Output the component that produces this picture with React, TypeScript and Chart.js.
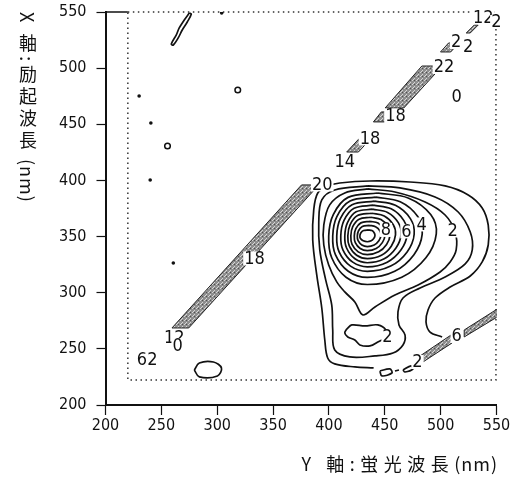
import React, { useEffect, useRef } from "react";
import { Chart, registerables } from "chart.js";

Chart.register(...registerables);

// ---------- axis ----------
const AXIS_MIN = 200;
const AXIS_MAX = 550;
const AXIS_STEP = 50;
const X_TITLE_MAIN = "Y 軸:蛍光波長";
const Y_TITLE_MAIN = "X 軸:励起波長";
const UNIT = "(nm)";

// ---------- contour lines: [emission nm, excitation nm] ----------
const peakRing1 = [[435.4,355.9],[438.5,355.3],[440.6,353.2],[441.2,350.8],[440.1,348.2],[437.8,346.2],[434.4,345.4],[430.7,346.2],[428.2,348.2],[427.7,350.5],[428.5,353.2],[431.0,355.4]];
const peakRing2 = [[436.2,360.0],[441.7,358.8],[445.6,355.2],[446.6,351.0],[444.7,346.3],[440.5,342.5],[434.4,341.1],[429.5,342.5],[426.1,346.3],[425.4,350.5],[426.5,355.2],[429.9,359.0]];
const peakRing3 = [[436.8,363.6],[443.9,362.0],[448.9,357.0],[450.2,351.2],[447.8,344.6],[442.3,339.4],[434.4,337.5],[428.0,339.4],[423.6,344.6],[422.7,350.5],[424.1,357.0],[428.6,362.2]];
const peakRing4 = [[437.4,367.2],[446.6,365.2],[453.0,358.8],[454.7,351.3],[451.6,343.0],[444.5,336.4],[434.4,333.9],[426.2,336.4],[420.7,343.0],[419.6,350.5],[421.3,358.8],[427.0,365.5]];
const peakRing5 = [[438.2,370.8],[449.5,368.3],[457.6,360.6],[459.6,351.5],[455.8,341.4],[447.0,333.3],[434.4,330.3],[424.8,333.3],[418.3,341.4],[416.9,350.5],[419.0,360.6],[425.6,368.7]];
const peakRing6 = [[438.9,374.4],[452.5,371.5],[462.1,362.4],[464.6,351.7],[460.0,339.8],[449.5,330.2],[434.4,326.7],[423.3,330.2],[415.8,339.8],[414.2,350.5],[416.6,362.4],[424.3,372.0]];
const peakRing7 = [[439.7,378.0],[455.7,374.7],[467.1,364.2],[470.0,351.9],[464.6,338.2],[452.2,327.2],[434.4,323.1],[421.3,327.2],[412.5,338.2],[410.6,350.5],[413.4,364.2],[422.5,375.2]];
const peakRing8 = [[440.7,381.6],[459.5,377.8],[472.9,366.0],[476.3,352.1],[470.0,336.3],[455.3,323.7],[434.4,319.0],[419.3,323.7],[409.1,336.3],[407.0,350.5],[410.2,366.0],[420.7,378.4]];
const peakRing9 = [[441.8,385.2],[463.8,381.0],[479.5,367.8],[483.5,352.2],[476.1,333.9],[458.9,319.1],[434.4,313.6],[417.3,319.1],[405.8,333.9],[403.4,350.5],[407.1,367.8],[418.9,381.7]];
const peakRing10 = [[443.6,388.8],[471.4,384.2],[491.1,369.6],[496.1,352.4],[486.8,331.1],[465.2,313.8],[434.4,307.3],[415.3,313.8],[402.5,331.1],[399.8,350.5],[403.9,369.6],[417.1,384.9]];
const level2Contour = [[434.9,392.4],[459.1,389.7],[486.1,380.8],[504.0,369.2],[513.0,354.1],[513.9,338.1],[508.5,327.4],[499.5,318.5],[479.8,306.9],[459.1,298.0],[441.2,287.3],[430.4,280.2],[423.2,291.8],[414.2,300.7],[407.0,309.6],[399.8,324.7],[395.4,342.5],[395.4,360.3],[400.7,378.2],[414.2,388.8]];
const level1Contour = [[434.9,395.1],[463.6,393.3],[495.0,385.3],[515.7,371.9],[526.5,354.1],[528.3,338.1],[522.0,325.6],[504.0,314.0],[481.6,304.2],[466.3,295.3],[461.8,282.9],[462.7,271.3],[468.1,262.4],[466.3,253.5],[457.3,246.3],[441.2,243.7],[418.7,242.8],[405.2,249.0],[403.4,266.8],[402.5,289.1],[397.1,311.4],[391.8,338.1],[390.9,363.0],[393.6,382.6],[405.2,391.5]];
const outerContour = [[501.3,260.6],[490.5,265.0],[486.9,273.9],[488.7,284.6],[495.0,295.3],[508.5,305.1],[526.5,314.9],[537.2,327.4],[542.6,342.5],[542.6,360.3],[537.2,375.5],[524.7,387.1],[504.0,395.1],[472.6,398.6],[436.7,399.5],[409.7,397.7],[398.9,395.1],[390.0,388.8],[386.4,373.7],[385.5,347.0],[389.1,315.8],[393.6,286.4],[396.3,257.9],[398.9,241.9],[405.2,236.6],[423.2,233.9],[440.0,233.0]];
const secondaryLoop = [[416.0,267.7],[420.5,271.3],[432.2,270.4],[443.8,271.3],[451.0,266.8],[451.0,260.6],[443.8,256.1],[436.7,252.6],[427.7,253.5],[423.2,257.9],[416.9,260.6],[414.2,264.2]];
const lowLeftLoop = [[279.5,231.2],[284.0,237.4],[296.6,238.3],[303.8,233.0],[300.2,225.9],[284.0,225.0]];
const bottomLoopA = [[445.6,230.3],[454.6,232.1],[456.4,228.5],[447.4,225.9]];
const bottomLoopB = [[466.3,231.2],[473.5,234.8],[475.3,232.1],[468.1,229.4]];
const bottomDash = [[459.1,230.3],[462.7,231.2]];
const topSliver = [[275.0,549.1],[270.5,542.9],[266.0,535.8],[263.3,529.5],[258.9,521.5],[260.7,520.6],[265.1,526.9],[268.7,534.0],[273.2,541.1],[276.8,548.2]];

// ---------- scatter bands (filled) ----------
const bandLower = [[259.5,268.6],[274.5,268.6],[391.0,396.0],[375.5,396.0]];
const bandPieceA = [[415.9,425.3],[426.4,425.3],[437.2,436.9],[426.7,436.9]];
const bandPieceB = [[439.8,452.1],[449.7,452.1],[456.9,461.0],[446.9,461.0]];
const bandPieceC = [[450.3,464.5],[467.0,464.5],[501.5,501.9],[483.2,501.9]];
const bandPieceD = [[499.9,514.4],[509.0,514.4],[516.2,522.4],[507.1,522.4]];
const bandPieceE = [[522.9,531.3],[526.5,531.3],[533.6,538.4],[530.1,538.4]];
const band2ndA = [[482.5,237.2],[482.5,244.3],[509.4,262.4],[510.3,255.3]];
const band2ndB = [[521.1,260.6],[521.1,266.8],[550.7,285.5],[550.7,278.4]];

// ---------- isolated marks ----------
const smallDots = [[230.1,475.2],[240.6,451.2],[240.0,400.4],[304.0,549.1],[260.7,326.5]];
const smallRings = [[255.5,430.7],[318.4,480.6]];

// ---------- measured region frame ----------
const frameEm = [220, 549.5];
const frameEx = [222.3, 550];

// ---------- contour labels: [text, emission, excitation] ----------
const contourLabels: [string, number, number][] = [
  ["8", 451.0, 355.9],
  ["6", 469.4, 354.6],
  ["4", 482.9, 360.8],
  ["2", 510.8, 355.4],
  ["0", 514.3, 474.8],
  ["2", 452.4, 260.6],
  ["6", 514.3, 261.5],
  ["2", 479.3, 238.3],
  ["20", 394.0, 396.4],
  ["14", 414.2, 416.9],
  ["18", 436.7, 437.4],
  ["18", 459.6, 457.8],
  ["22", 503.0, 501.0],
  ["2", 513.9, 523.3],
  ["2", 524.7, 518.8],
  ["12", 538.1, 545.1],
  ["2", 549.8, 541.1],
  ["18", 333.4, 330.5],
  ["12", 261.5, 260.2],
  ["0", 264.5, 253.0],
  ["62", 237.3, 240.1],
];

const FONT_NARROW = '"Liberation Sans Narrow", "DejaVu Sans Condensed", sans-serif';

const pts = (arr: number[][]) => arr.map(([x, y]) => ({ x, y }));
const closed = (arr: number[][]) => pts([...arr, arr[0]]);

const labelPlugin = {
  id: "contourLabels",
  afterDatasetsDraw(chart: any) {
    const { ctx, scales } = chart;
    ctx.save();
    ctx.font = `18px ${FONT_NARROW}`;
    ctx.textAlign = "center";
    ctx.textBaseline = "middle";
    for (const [t, em, ex] of contourLabels) {
      const x = scales.x.getPixelForValue(em);
      const y = scales.y.getPixelForValue(ex);
      const w = ctx.measureText(t).width;
      ctx.fillStyle = "#ffffff";
      ctx.fillRect(x - w / 2 - 1, y - 7, w + 2, 14);
      ctx.fillStyle = "#111111";
      ctx.fillText(t, x, y + 0.5);
    }
    ctx.restore();
  },
};

export default function App() {
  const ref = useRef<HTMLCanvasElement>(null);

  useEffect(() => {
    const canvas = ref.current!;
    const ctx = canvas.getContext("2d")!;
    const pc = document.createElement("canvas");
    pc.width = 4;
    pc.height = 4;
    const p = pc.getContext("2d")!;
    p.fillStyle = "#8e8e8e";
    p.fillRect(0, 0, 4, 4);
    p.fillStyle = "#d6d6d6";
    p.fillRect(0, 0, 1, 1);
    p.fillRect(2, 2, 1, 1);
    p.fillRect(1, 3, 1, 1);
    p.fillStyle = "#505050";
    p.fillRect(2, 0, 1, 1);
    const pattern = ctx.createPattern(pc, "repeat");

    const contour = (arr: number[][], isClosed = true) => ({
      data: isClosed ? closed(arr) : pts(arr),
      borderColor: "#111",
      borderWidth: 1.7,
      pointRadius: 0,
      tension: 0.35,
      fill: false,
    });
    const band = (arr: number[][]) => ({
      data: closed(arr),
      borderColor: "#222",
      borderWidth: 1,
      backgroundColor: pattern,
      fill: "shape",
      pointRadius: 0,
      tension: 0,
    });

    const datasets: any[] = [
      band(bandLower), band(bandPieceA), band(bandPieceB), band(bandPieceC),
      band(bandPieceD), band(bandPieceE), band(band2ndA), band(band2ndB),
      contour(peakRing1), contour(peakRing2), contour(peakRing3), contour(peakRing4),
      contour(peakRing5), contour(peakRing6), contour(peakRing7), contour(peakRing8),
      contour(peakRing9), contour(peakRing10), contour(level2Contour), contour(level1Contour),
      contour(outerContour, false), contour(secondaryLoop), contour(lowLeftLoop),
      contour(bottomLoopA), contour(bottomLoopB), contour(bottomDash, false), contour(topSliver),
      {
        data: pts(smallDots), showLine: false, pointRadius: 1.8,
        pointBackgroundColor: "#111", pointBorderWidth: 0,
      },
      {
        data: pts(smallRings), showLine: false, pointRadius: 2.8,
        pointBackgroundColor: "#fff", pointBorderColor: "#111", pointBorderWidth: 1.5,
      },
      {
        data: pts([[frameEm[0], frameEx[1]], [frameEm[1], frameEx[1]], [frameEm[1], frameEx[0]], [frameEm[0], frameEx[0]], [frameEm[0], frameEx[1]]]),
        borderColor: "#333", borderWidth: 1.5, borderDash: [1.5, 3.5],
        pointRadius: 0, tension: 0, clip: false, fill: false,
      },
      {
        data: pts([[AXIS_MIN, AXIS_MAX], [frameEm[0], AXIS_MAX]]),
        borderColor: "#111", borderWidth: 1.5, pointRadius: 0, clip: false, fill: false,
      },
    ];

    const tickFont = { family: FONT_NARROW, size: 16 };
    const chart = new Chart(ctx, {
      type: "line",
      data: { datasets },
      plugins: [labelPlugin],
      options: {
        animation: false,
        responsive: false,
        events: [],
        layout: { padding: { top: 12, right: 14.5, bottom: 0, left: 0 } },
        plugins: { legend: { display: false }, tooltip: { enabled: false } },
        scales: {
          x: {
            type: "linear",
            min: AXIS_MIN,
            max: AXIS_MAX,
            afterFit: (s: any) => { s.height = 76; s.paddingLeft = 0; s.paddingRight = 0; },
            ticks: { stepSize: AXIS_STEP, color: "#111", font: tickFont, padding: 1, maxRotation: 0, autoSkip: false },
            grid: { drawOnChartArea: false, drawTicks: true, tickLength: 10, color: "#111", tickWidth: 1.2 },
            border: { display: true, color: "#111", width: 2 },
          },
          y: {
            type: "linear",
            min: AXIS_MIN,
            max: AXIS_MAX,
            afterFit: (s: any) => { s.width = 105.5; s.paddingTop = 0; s.paddingBottom = 0; },
            ticks: { stepSize: AXIS_STEP, color: "#111", font: tickFont, padding: 10, autoSkip: false },
            grid: { drawOnChartArea: false, drawTicks: true, tickLength: 9, color: "#111", tickWidth: 1.2 },
            border: { display: true, color: "#111", width: 2 },
          },
        },
      } as any,
    });
    return () => chart.destroy();
  }, []);

  const titleFont: React.CSSProperties = {
    fontFamily: '"Noto Sans CJK JP", sans-serif', fontSize: 18, lineHeight: "18px",
    color: "#111", whiteSpace: "nowrap",
  };

  return (
    <div style={{ position: "absolute", left: 0, top: 0, width: 511, height: 481, overflow: "hidden", background: "#fff" }}>
      <canvas ref={ref} width={511} height={481} style={{ position: "absolute", left: 0, top: 0, display: "block" }} />
      <div
        style={{
          ...titleFont, position: "absolute", left: 19, top: 12,
          writingMode: "vertical-rl", textOrientation: "mixed",
        }}
      >
        <span style={{ letterSpacing: "4px" }}>{Y_TITLE_MAIN}</span>
        <span style={{ letterSpacing: "1px", marginTop: 6, display: "inline-block" }}>{UNIT}</span>
      </div>
      <div style={{ ...titleFont, position: "absolute", right: 13, top: 454 }}>
        <span style={{ letterSpacing: "5.5px" }}>{X_TITLE_MAIN}</span>
        <span style={{ letterSpacing: "1px" }}>{UNIT}</span>
      </div>
    </div>
  );
}
